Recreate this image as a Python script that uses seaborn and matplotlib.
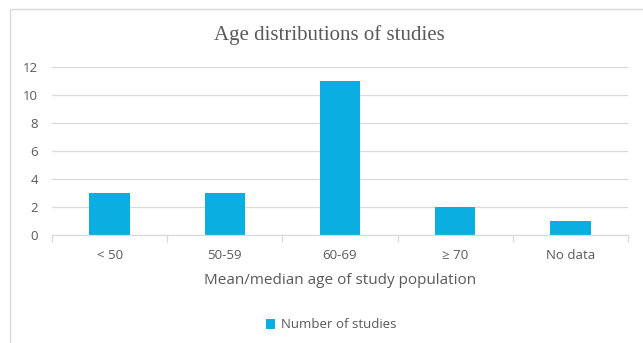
import matplotlib
matplotlib.use("Agg")
import matplotlib.pyplot as plt
import seaborn as sns
import pandas as pd
from matplotlib.patches import Rectangle

categories = ["< 50", "50-59", "60-69", "\u2265 70", "No data"]
counts = [3, 3, 11, 2, 1]
y_ticks = [0, 2, 4, 6, 8, 10, 12]
series_name = "Number of studies"

sns.set_theme(style="white")
plt.rcParams["font.family"] = ["Open Sans", "DejaVu Sans"]

df = pd.DataFrame({"category": categories, "count": counts})

fig = plt.figure(figsize=(6.43, 3.43), dpi=100)
ax = fig.add_axes([52 / 643, 1 - 235 / 343, (628 - 52) / 643, (235 - 67) / 343])

# chart border
fig.patches.append(Rectangle((10 / 643, -0.01), 1.0, 1 - 9 / 343 + 0.01,
                             transform=fig.transFigure, fill=False,
                             edgecolor="#D9D9D9", linewidth=1.0))

bar_color = "#0AAEE0"
sns.barplot(data=df, x="category", y="count", color=bar_color, width=0.35,
            saturation=1, linewidth=0, edgecolor="none", ax=ax, label=series_name)

ax.set_ylim(0, 12)
ax.set_yticks(y_ticks)
ax.set_xlim(-0.5, len(categories) - 0.5)
ax.yaxis.grid(True, color="#D9D9D9", linewidth=0.9)
ax.set_axisbelow(True)
for s in ["top", "right", "left"]:
    ax.spines[s].set_visible(False)
ax.spines["bottom"].set_color("#D9D9D9")
ax.spines["bottom"].set_linewidth(0.9)

# category separators along the baseline
ax.set_xticks([i - 0.5 for i in range(len(categories) + 1)], minor=True)
ax.tick_params(axis="x", which="minor", length=5, color="#D9D9D9", width=0.9, bottom=True)
ax.tick_params(axis="x", which="major", length=0, labelsize=9.5, labelcolor="#595959", pad=10)
ax.tick_params(axis="y", length=0, labelsize=9.5, labelcolor="#595959", pad=10)

ax.set_xlabel("Mean/median age of study population", fontsize=11, color="#595959", labelpad=8)
ax.set_ylabel("")

fig.text(329 / 643, 1 - 35 / 343, "Age distributions of studies", ha="center", va="center",
         fontsize=15, color="#595959", family=["Liberation Serif", "DejaVu Serif"])

leg = ax.legend(loc="center", bbox_to_anchor=(331 / 643, 1 - 325 / 343), bbox_transform=fig.transFigure,
                frameon=False, fontsize=9.5, handlelength=0.7, handleheight=0.7,
                handletextpad=0.4, labelcolor="#595959")

fig.savefig("out.png", dpi=100)
